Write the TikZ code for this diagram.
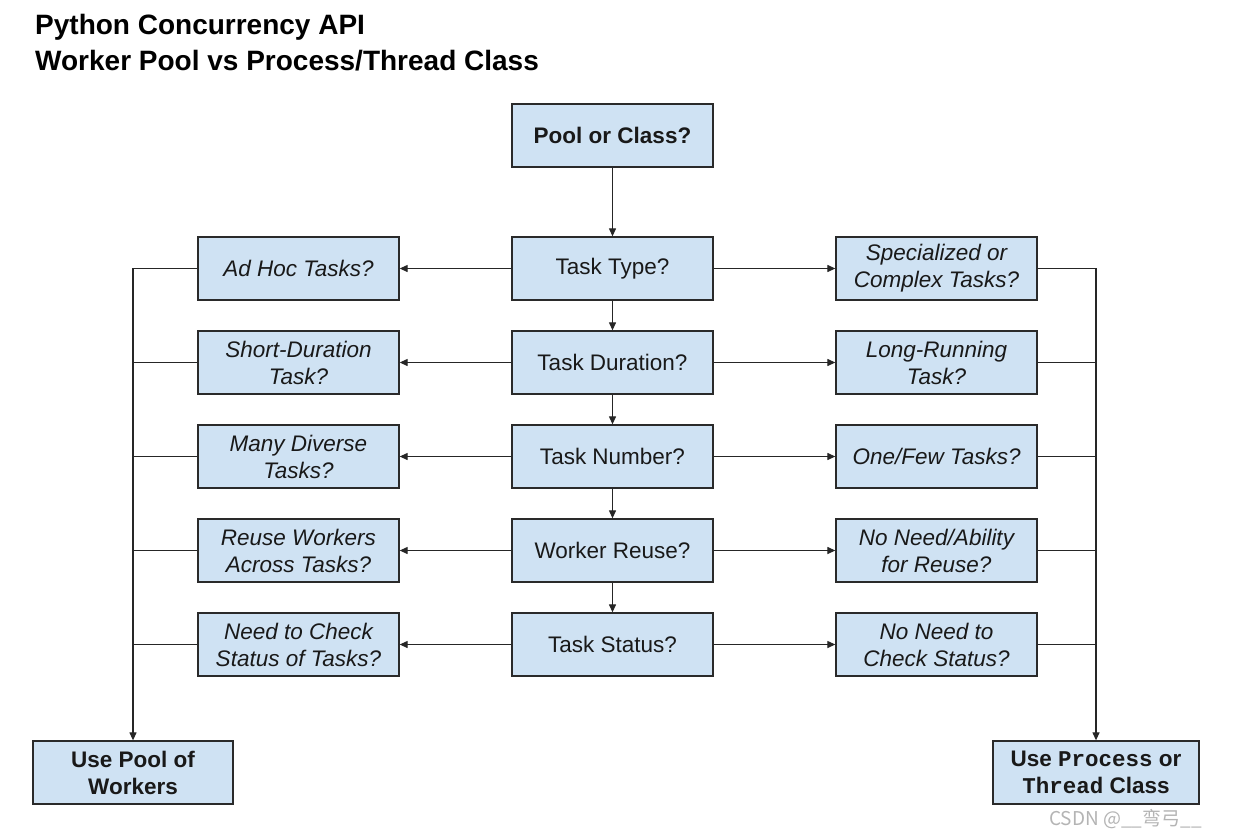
\documentclass[tikz,border=0pt]{standalone}
\usepackage{fontspec}
\setmainfont{Liberation Sans}
\newfontfamily\monofont{Liberation Mono}
\newfontfamily\cjk{Noto Sans CJK SC}
\usetikzlibrary{arrows.meta}
\definecolor{boxfill}{HTML}{CFE2F3}
\definecolor{boxline}{HTML}{2A2A2A}
\definecolor{wm}{HTML}{B4B4B4}
\tikzset{
  box/.style={draw=boxline, line width=1.3pt, fill=boxfill, minimum width=201pt, minimum height=63pt,
    inner sep=0pt, align=center, text=black!90, font=\fontsize{22.5}{27}\selectfont},
  ibox/.style={box, font=\fontsize{22.5}{27}\selectfont\itshape},
  bbox/.style={box, font=\fontsize{22.5}{27}\selectfont\bfseries},
  conn/.style={draw=black!85, line width=1.2pt},
  arr/.style={conn, -{Triangle[length=8pt,width=7pt]}},
}
\begin{document}
\begin{tikzpicture}[x=1pt,y=-1pt]
\useasboundingbox (0,0) rectangle (1236,838);
\fill[white] (0,0) rectangle (1236,838);
% title
\node[anchor=base west, inner sep=0pt, font=\fontsize{28}{34}\selectfont\bfseries] (title1) at (35,34) {Python Concurrency API};
\node[anchor=base west, inner sep=0pt, font=\fontsize{28}{34}\selectfont\bfseries] (title2) at (35,70) {Worker Pool vs Process/Thread Class};
% center column
\node[bbox] (p) at (612.5,135.5) {Pool or Class?};
\node[box] (t1) at (612.5,268.5) {Task Type?};
\node[box] (t2) at (612.5,362.5) {Task Duration?};
\node[box] (t3) at (612.5,456.5) {Task Number?};
\node[box] (t4) at (612.5,550.5) {Worker Reuse?};
\node[box] (t5) at (612.5,644.5) {Task Status?};
% left column
\node[ibox] (l1) at (298.5,268.5) {Ad Hoc Tasks?};
\node[ibox] (l2) at (298.5,362.5) {Short-Duration\\Task?};
\node[ibox] (l3) at (298.5,456.5) {Many Diverse\\Tasks?};
\node[ibox] (l4) at (298.5,550.5) {Reuse Workers\\Across Tasks?};
\node[ibox] (l5) at (298.5,644.5) {Need to Check\\Status of Tasks?};
% right column
\node[ibox] (r1) at (936.5,268.5) {Specialized or\\Complex Tasks?};
\node[ibox] (r2) at (936.5,362.5) {Long-Running\\Task?};
\node[ibox] (r3) at (936.5,456.5) {One/Few Tasks?};
\node[ibox] (r4) at (936.5,550.5) {No Need/Ability\\for Reuse?};
\node[ibox] (r5) at (936.5,644.5) {No Need to\\Check Status?};
% results
\node[bbox, minimum width=200pt] (pool) at (133,772.5) {Use Pool of\\Workers};
\node[bbox, minimum width=206pt] (cls) at (1096,772.5) {Use {\monofont\bfseries Process} or\\{\monofont\bfseries Thread} Class};
% watermark
\node[anchor=west, inner sep=0pt, text=wm, font=\cjk\fontsize{19}{22}\selectfont] (wmk) at (1049,819) {CSDN @\_\_弯弓\_\_};
% connectors
\draw[arr] (p) -- (t1);
\draw[arr] (t1) -- (t2);
\draw[arr] (t2) -- (t3);
\draw[arr] (t3) -- (t4);
\draw[arr] (t4) -- (t5);
\foreach \i in {1,...,5} {
  \draw[arr] (t\i.west) -- (l\i.east);
  \draw[arr] (t\i.east) -- (r\i.west);
}
\coordinate (busL) at (l1.west -| pool.north);
\coordinate (busR) at (r1.east -| cls.north);
\draw[arr] (l1.west) -- (busL) -- (pool.north);
\draw[arr] (r1.east) -- (busR) -- (cls.north);
\foreach \i in {2,...,5} {
  \draw[conn] (l\i.west) -- (l\i.west -| pool.north);
  \draw[conn] (r\i.east) -- (r\i.east -| cls.north);
}
\end{tikzpicture}
\end{document}
